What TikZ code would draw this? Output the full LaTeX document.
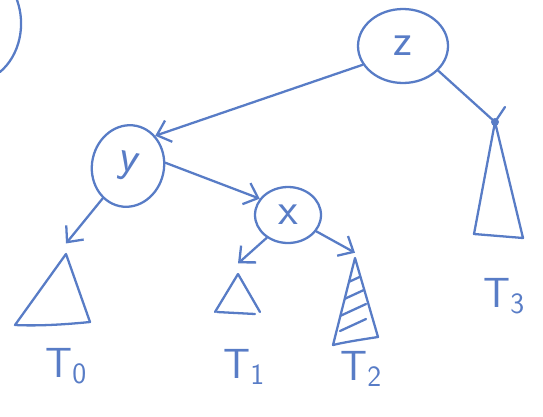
\documentclass[tikz,border=0pt]{standalone}
\usetikzlibrary{arrows.meta, shapes.geometric}
\definecolor{pen}{RGB}{88,124,198}

\begin{document}
\begin{tikzpicture}[x=0.02cm, y=-0.02cm,
    vert/.style={draw=pen, ellipse, line width=1.3pt, inner sep=0pt, text=pen, font=\sffamily\fontsize{26}{28}\selectfont},
    edge/.style={draw=pen, line width=1.3pt, line cap=round, -{Straight Barb[length=2.5mm, width=4.5mm]}},
    tri/.style={draw=pen, line width=1.3pt, line join=round, line cap=round},
    lbl/.style={text=pen, inner sep=0pt, anchor=base west, font=\sffamily\fontsize{24}{26}\selectfont}
  ]
    \useasboundingbox (0,0) rectangle (543,416);

    % piece of a circle at the corner
    \draw[tri] (17,0) .. controls (26,25) and (20,55) .. (0,72);

    % the three keys
    \node[vert, minimum width=1.8cm, minimum height=1.48cm] (z) at (403,46) {z};
    \node[vert, rotate=-12, minimum width=1.44cm, minimum height=1.64cm] (y) at (128,166) {y};
    \node[vert, minimum width=1.32cm, minimum height=1.12cm] (x) at (288,215) {x};

    % subtree tops
    \coordinate (t0) at (66,254);
    \coordinate (t1) at (238,274);
    \coordinate (t2) at (355,258);
    \coordinate (t3) at (495,122);

    % subtrees
    \draw[tri] (t0) -- (90,322) .. controls (60,325) and (35,326) .. (15,325) -- cycle;
    \draw[tri] (t1) -- (260,312) (215,312) -- (t1);
    \draw[tri] (217,312) -- (255,314);
    \draw[tri] (t2) -- (378,337) .. controls (365,339) and (345,342) .. (333,345) -- cycle;
    \begin{scope}
      \clip (t2) -- (378,337) -- (333,345) -- cycle;
      \foreach \k in {0,...,3}
        \draw[tri] (340,286+15*\k) -- (366,274+15*\k);
    \end{scope}
    \draw[tri] (t3) -- (523,238) -- (474,234) -- cycle;
    \draw[tri] (505,107) -- (t3);
    \fill[pen] (t3) circle (4);

    % links
    \draw[edge] (z.205) -- (y.60);
    \draw[edge] (y.17) -- (x.150);
    \draw[edge] (y.244) -- ([yshift=6pt]t0);
    \draw[edge] (x.227) -- ([yshift=6pt]t1);
    \draw[edge] (x.330) -- ([yshift=3pt]t2);
    \draw[tri] (z.325) -- (t3);

    % names of the subtrees
    \node[lbl] (n0) at (45,377) {T\textsubscript{0}};
    \node[lbl] (n1) at (223,378) {T\textsubscript{1}};
    \node[lbl] (n2) at (340,380) {T\textsubscript{2}};
    \node[lbl] (n3) at (483,307) {T\textsubscript{3}};
  \end{tikzpicture}
\end{document}
